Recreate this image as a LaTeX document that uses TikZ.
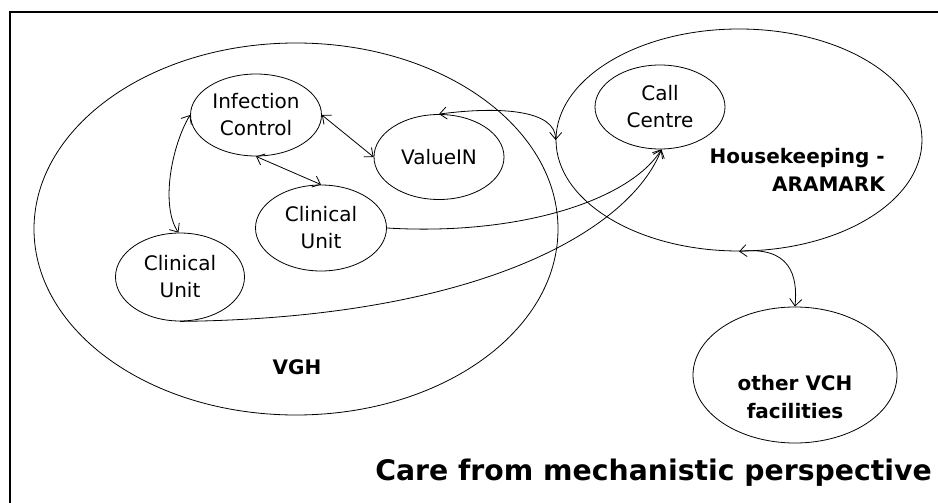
\documentclass[tikz,border=0pt]{standalone}
\usepackage{fontspec}
\setmainfont{DejaVu Sans}
\usetikzlibrary{shapes.geometric,arrows.meta}
\tikzset{
  oval/.style={draw, ellipse, line width=0.8pt, inner sep=0pt, align=center,
    font=\fontsize{20}{27}\selectfont},
  lbl/.style={inner sep=0pt, align=center, font=\bfseries\fontsize{20}{27.5}\selectfont},
  link/.style={line width=0.8pt, {Straight Barb[length=7pt,width=12pt]}-{Straight Barb[length=7pt,width=12pt]}},
  link1/.style={line width=0.8pt, -{Straight Barb[length=7pt,width=12pt]}},
  frame/.style={line width=2.5pt}
}
\begin{document}
\begin{tikzpicture}[x=1pt,y=-1pt]
\useasboundingbox (0,0) rectangle (938,503);
\coordinate (fl) at (10,503);
\coordinate (fc) at (10,12);
\coordinate (fr) at (938,12);
\draw[frame] (fl) -- (fc) -- (fr);

% big ellipses
\node[oval, minimum width=524pt, minimum height=372pt] (vgh) at (296,229) {};
\node[oval, minimum width=366pt, minimum height=222pt] (hk) at (739,140) {};

% small ellipses
\node[oval, minimum width=130pt, minimum height=84pt] (cc) at (660,107) {Call\\Centre};
\node[oval, minimum width=131pt, minimum height=82pt] (ic) at (256,115) {Infection\\Control};
\node[oval, minimum width=130pt, minimum height=85pt] (vin) at (439,157) {ValueIN};
\node[oval, minimum width=131pt, minimum height=86pt] (cu1) at (321,228) {Clinical\\Unit};
\node[oval, minimum width=129pt, minimum height=88pt] (cu2) at (180,277) {Clinical\\Unit};
\node[oval, minimum width=204pt, minimum height=136pt] (vch) at (795,375) {};

% labels
\node[lbl] (vghl) at (297,367) {VGH};
\node[lbl, anchor=east, align=right] (hkl) at (885,170) {Housekeeping -\\ARAMARK};
\node[lbl] (vchl) at (795,397) {other VCH\\facilities};
\node[inner sep=0pt, anchor=base east, font=\bfseries\fontsize{28.3}{32}\selectfont] (title) at (932,480) {Care from mechanistic perspective};

% connectors
\draw[link] (ic.east) -- (vin.west);
\draw[link] (ic.270) -- (cu1.90);
\draw[link] (ic.180) .. controls (172,145) and (160,205) .. (cu2.92);
\draw[link] (vin.90) .. controls (500,106) and (556,110) .. (hk.180);
\draw[link1] (cu1.east) .. controls (520,236) and (630,200) .. (cc.272);
\draw[link1] (cu2.270) .. controls (480,318) and (630,230) .. (cc.272);
\draw[link] (hk.270) .. controls (790,246) and (798,275) .. (vch.90);
\end{tikzpicture}
\end{document}
